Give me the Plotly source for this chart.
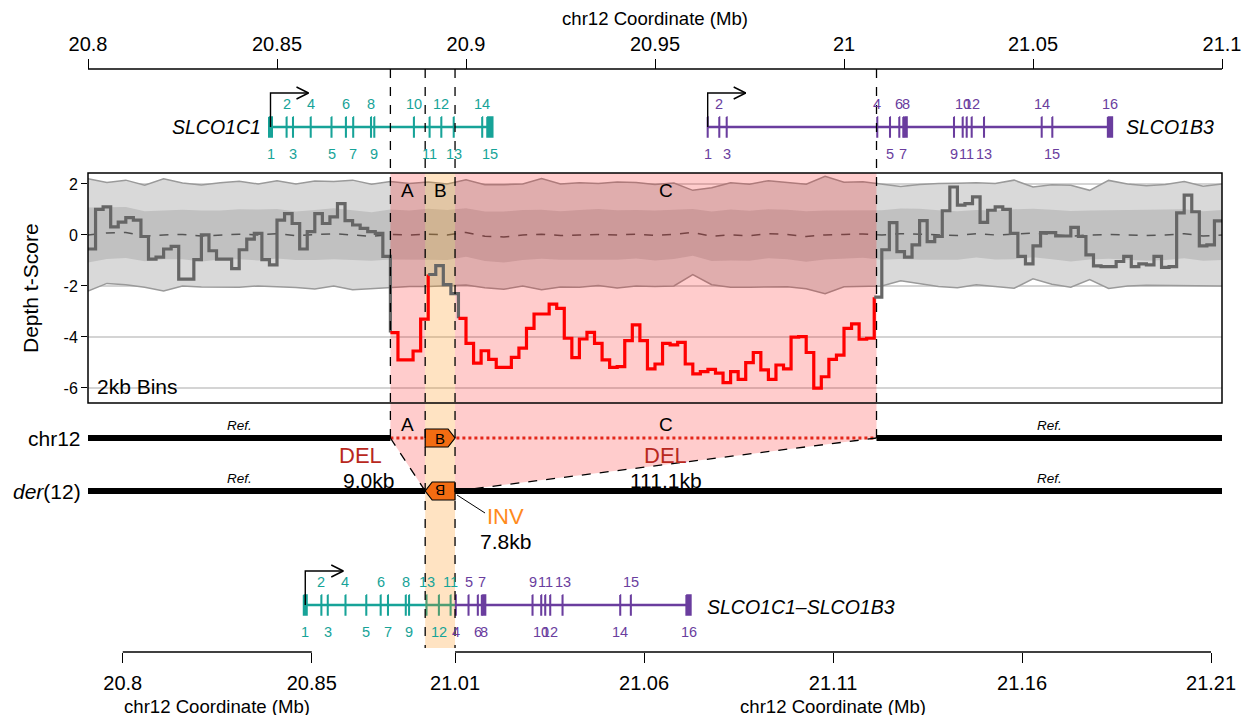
import plotly.graph_objects as go

# ---------------- data ----------------
bin_start_mb = 20.8
bin_size_mb = 0.002
depth_t = [
    -0.55, 1.0, 1.1, 0.32, 0.5, 0.68, 0.58, -0.06, -0.95, -0.87,
    -0.55, -0.45, -1.73, -1.73, -0.97, 0.0, -0.62, -0.95, -0.95, -1.32,
    -0.58, -0.16, 0.06, -0.97, -1.17, 0.58, 0.84, 0.45, -0.55, 0.13,
    0.84, 0.45, 0.71, 1.23, 0.56, 0.39, 0.26, 0.13, 0.06, -0.84,
    -3.83, -4.9, -4.9, -4.55, -3.3,
    -1.55, -1.2, -1.95, -2.3,
    -3.27, -4.25, -5.03, -4.54, -4.88, -5.19, -5.19, -4.8, -4.44, -3.66,
    -3.1, -3.1, -2.71, -2.88, -4.05, -4.81, -4.08, -3.82, -4.25, -4.9,
    -5.19, -5.16, -4.14, -3.53, -4.14, -5.25, -5.06, -4.25, -4.31, -4.21,
    -5.06, -5.45, -5.36, -5.27, -5.42, -5.79, -5.36, -5.66, -5.01, -4.61,
    -5.29, -5.66, -5.1, -5.25, -4.01, -3.99, -4.61, -6.01, -5.56, -4.88,
    -4.71, -3.66, -3.49, -4.09, -4.05,
    -2.44, -0.58, 0.48, -0.65, -0.87, -0.39, 0.56, -0.26, -0.06, 0.95,
    1.88, 1.17, 1.23, 1.49, 0.49, 0.97, 1.1, 1.0, 0.06, -0.84,
    -1.13, -0.43, 0.09, 0.09, -0.04, -0.04, 0.3, -0.06, -0.78, -1.21,
    -1.24, -1.24, -1.04, -0.84, -1.24, -1.13, -1.17, -0.84, -1.27, -1.24,
    0.87, 1.56, 0.91, -0.43, -0.39, 0.55,
]

band_start_mb = 20.8
band_step_mb = 0.005
band_mean = [
    0.0, 0.08, 0.1, -0.05, 0.0, 0.02, -0.04, 0.0, 0.03, 0.0,
    0.05, -0.03, 0.0, 0.05, 0.0, -0.06, 0.02, 0.0, 0.03, 0.0,
    0.1, -0.05, -0.08, 0.0, 0.03, -0.02, 0.0, 0.02, 0.0, 0.03,
    -0.02, 0.02, 0.1, -0.05, 0.0, -0.03, 0.05, 0.02, -0.06, 0.0,
    0.02, 0.04, 0.0, 0.05, 0.03, 0.0, -0.02, 0.05, 0.0, 0.03,
    0.08, 0.02, -0.05, 0.0, 0.02, 0.0, -0.02, 0.0, 0.05, -0.04, 0.0,
]
band_inner_hw = [
    1.08, 1.02, 1.0, 0.98, 0.95, 0.97, 1.0, 0.96, 0.98, 1.0,
    0.97, 0.95, 0.98, 1.0, 0.97, 0.95, 0.98, 0.96, 1.0, 0.98,
    0.95, 0.97, 1.0, 0.98, 0.96, 0.95, 0.98, 1.0, 0.97, 0.95,
    0.98, 0.96, 0.92, 0.97, 1.0, 0.98, 0.96, 0.97, 0.99, 0.96,
    0.95, 0.93, 0.97, 0.99, 1.0, 0.97, 0.95, 0.93, 0.96, 0.98,
    0.95, 0.97, 0.99, 0.96, 0.95, 0.97, 0.99, 0.98, 0.96, 0.97, 0.98,
]
band_outer_hw = [
    2.2, 1.98, 2.05, 2.0, 2.2, 2.02, 2.0, 2.05, 2.08, 2.0,
    2.08, 2.03, 2.12, 2.05, 2.15, 2.05, 2.08, 2.02, 2.05, 2.0,
    2.06, 2.02, 2.05, 2.0, 2.18, 2.02, 2.05, 2.0, 2.08, 2.03,
    2.0, 2.02, 1.65, 1.9, 2.05, 2.02, 2.08, 2.05, 2.05, 2.3,
    2.05, 2.05, 2.0, 1.85, 1.95, 2.02, 2.05, 2.0, 2.02, 2.12,
    1.8, 1.95, 2.0, 1.75, 2.12, 2.0, 1.95, 1.98, 2.05, 1.95, 2.0,
]

# breakpoints (Mb)
del_a_start = 20.8800
inv_b_start = 20.8892
inv_b_end = 20.8971
del_c_end = 21.0086
del_a_size = "9.0kb"
inv_b_size = "7.8kb"
del_c_size = "111.1kb"

top_ticks = [20.8, 20.85, 20.9, 20.95, 21.0, 21.05, 21.1]
bottom_left_ticks = [20.8, 20.85]
bottom_right_count = 5
tick_step = 0.05
y_ticks = [-6, -4, -2, 0, 2]

slco1c1_exons = [20.84828, 20.85254, 20.85423, 20.85892, 20.86442, 20.86823, 20.87016,
                 20.87487, 20.87574, 20.88622, 20.89037, 20.89347, 20.89675, 20.90429, 20.90632]
slco1c1_len_kb = [0.9, 0.12, 0.12, 0.12, 0.12, 0.12, 0.12, 0.12, 0.12, 0.12, 0.12, 0.12, 0.12, 0.12, 1.5]
slco1b3_exons = [20.96394, 20.96701, 20.96897, 21.00880, 21.01217, 21.01463, 21.01569, 21.01632,
                 21.02910, 21.03140, 21.03246, 21.03378, 21.03704, 21.05230, 21.05511, 21.07037]
slco1b3_len_kb = [0.12, 0.12, 0.12, 0.12, 0.12, 0.12, 0.12, 0.7, 0.12, 0.12, 0.12, 0.12, 0.12, 0.12, 0.12, 1.25]

# ---------------- layout geometry (page pixels) ----------------
W, H = 1254, 723
OFF = 8                      # page body margin
FW, FH = W - 2 * OFF, H - 2 * OFF
PX0, PX1 = 88, 1222
MB0, MB1 = 20.8, 21.1
PXMB = (PX1 - PX0) / (MB1 - MB0)


def px2mb(p):
    return MB0 + (p - PX0) / PXMB


def mbw(p):
    return p / PXMB


XR = [px2mb(OFF), px2mb(W - OFF)]
YR = [H - OFF, OFF]

Y_TOPAXIS, Y_GENE_TOP, PANEL_TOP, PANEL_BOT = 69, 127, 173, 403
Y_CHR, Y_DER, Y_GENE_BOT, Y_BAND_END, Y_BOTAXIS = 438, 491, 605, 648, 652
YR2 = [-6.59, 2.43]

TEAL = "#17a398"
PURPLE = "#6a3d9e"
RED_SHADE = "rgba(255,0,0,0.2)"
ORANGE_SHADE = "rgba(255,140,0,0.24)"
BOX_ORANGE = "#f36c12"
FONT = "Liberation Sans, Arial, Helvetica, sans-serif"


def der_pos(x):
    if x < del_a_start:
        return x + (inv_b_start - del_a_start)
    if inv_b_start <= x < inv_b_end:
        return inv_b_start + inv_b_end - x
    if x >= del_c_end:
        return x - (del_c_end - inv_b_end)
    return None


fig = go.Figure()


def poly(xs, ys, fill, ax="x", ay="y", lw=0, lc=None):
    fig.add_trace(go.Scatter(x=xs, y=ys, mode="lines", fill="toself", fillcolor=fill,
                             line=dict(width=lw, color=lc or fill), hoverinfo="skip",
                             showlegend=False, xaxis=ax, yaxis=ay))


def line(xs, ys, color, width, dash=None, ax="x", ay="y", shape="linear"):
    fig.add_trace(go.Scatter(x=xs, y=ys, mode="lines",
                             line=dict(color=color, width=width, dash=dash, shape=shape),
                             hoverinfo="skip", showlegend=False, xaxis=ax, yaxis=ay))


def rect(x0, x1, y0, y1):
    return [x0, x1, x1, x0, x0], [y0, y0, y1, y1, y0]


annotations = []


def text(x, y, s, size=19, color="black", xanchor="center", angle=0, italic=False):
    if italic:
        s = "<i>" + s + "</i>"
    annotations.append(dict(x=x, y=y, xref="x", yref="y", text=s, showarrow=False,
                            font=dict(size=size, color=color, family=FONT),
                            xanchor=xanchor, yanchor="middle", textangle=angle))


# ---- red shading outside panel ----
poly(*rect(del_a_start, inv_b_start, PANEL_BOT, Y_CHR), RED_SHADE)
poly(*rect(inv_b_end, del_c_end, PANEL_BOT, Y_CHR), RED_SHADE)
poly([del_a_start, inv_b_start, inv_b_start, del_a_start], [Y_CHR, Y_CHR, Y_DER, Y_CHR], RED_SHADE)
poly([inv_b_end, del_c_end, inv_b_end, inv_b_end], [Y_CHR, Y_CHR, Y_DER, Y_CHR], RED_SHADE)


# ---- gene models ----
def draw_transcripts(transcripts, row, backbones):
    for x0, x1, col in backbones:
        line([x0, x1], [row, row], col, 2.5)
    for tr in transcripts:
        bycol = {}
        for pos, ln, lab, col in tr:
            xs, ys = rect(pos - ln / 2, pos + ln / 2, row - 10, row + 10)
            bycol.setdefault(col, ([], []))
            bycol[col][0].extend(xs + [None])
            bycol[col][1].extend(ys + [None])
        for col, (xs, ys) in bycol.items():
            poly(xs, ys, col, lw=1.6, lc=col)
        for k, (pos, ln, lab, col) in enumerate(sorted(tr, key=lambda e: e[0])):
            yy = row + 27 if k % 2 == 0 else row - 23
            text(pos, yy, lab, size=14.5, color=col)


def tss_arrow(x, row):
    top = row - 34
    tip = x + mbw(38)
    line([x, x, tip], [row, top, top], "black", 1.4)
    line([tip - mbw(12), tip, tip - mbw(12)], [top - 6, top, top + 6], "black", 1.4)


c1 = [(p, l / 1000, str(i + 1), TEAL) for i, (p, l) in enumerate(zip(slco1c1_exons, slco1c1_len_kb))]
b3 = [(p, l / 1000, str(i + 1), PURPLE) for i, (p, l) in enumerate(zip(slco1b3_exons, slco1b3_len_kb))]

draw_transcripts([c1, b3], Y_GENE_TOP, [
    (c1[0][0] - c1[0][1] / 2, c1[-1][0] + c1[-1][1] / 2, TEAL),
    (b3[0][0] - b3[0][1] / 2, b3[-1][0] + b3[-1][1] / 2, PURPLE),
])
fused = []
for p, l, lab, col in c1 + b3:
    d = der_pos(p)
    if d is not None:
        fused.append((d, l, lab, col))
f_start = der_pos(c1[0][0]) - c1[0][1] / 2
f_end = der_pos(b3[-1][0]) + b3[-1][1] / 2
draw_transcripts([fused], Y_GENE_BOT, [(f_start, inv_b_end, TEAL), (inv_b_end, f_end, PURPLE)])

tss_arrow(c1[0][0], Y_GENE_TOP)
tss_arrow(b3[0][0], Y_GENE_TOP)
tss_arrow(der_pos(c1[0][0]), Y_GENE_BOT)

# orange inversion band below panel
poly(*rect(inv_b_start, inv_b_end, PANEL_BOT, Y_BAND_END), ORANGE_SHADE)

# ---- chromosomes ----
line([MB0, del_a_start], [Y_CHR, Y_CHR], "black", 6)
line([del_c_end, MB1], [Y_CHR, Y_CHR], "black", 6)
line([del_a_start, del_c_end], [Y_CHR, Y_CHR], "#e3281b", 3, dash="dot")
line([MB0, inv_b_start], [Y_DER, Y_DER], "black", 6)
line([inv_b_end, MB1], [Y_DER, Y_DER], "black", 6)

pt = mbw(7)
poly([inv_b_start, inv_b_end - pt, inv_b_end, inv_b_end - pt, inv_b_start, inv_b_start],
     [Y_CHR - 9, Y_CHR - 9, Y_CHR, Y_CHR + 9, Y_CHR + 9, Y_CHR - 9], BOX_ORANGE, lw=1.2, lc="black")
poly([inv_b_end, inv_b_start + pt, inv_b_start, inv_b_start + pt, inv_b_end, inv_b_end],
     [Y_DER - 9, Y_DER - 9, Y_DER, Y_DER + 9, Y_DER + 9, Y_DER - 9], BOX_ORANGE, lw=1.2, lc="black")

# ---- depth panel ----
bx = [band_start_mb + band_step_mb * j for j in range(len(band_mean))]
o_hi = [m + h for m, h in zip(band_mean, band_outer_hw)]
o_lo = [m - h for m, h in zip(band_mean, band_outer_hw)]
i_hi = [m + h for m, h in zip(band_mean, band_inner_hw)]
i_lo = [m - h for m, h in zip(band_mean, band_inner_hw)]
poly(bx + bx[::-1], o_hi + o_lo[::-1], "#d9d9d9", ax="x2", ay="y2")
poly(bx + bx[::-1], i_hi + i_lo[::-1], "#c1c1c1", ax="x2", ay="y2")
line(bx, o_hi, "#9a9a9a", 1.5, ax="x2", ay="y2")
line(bx, o_lo, "#9a9a9a", 1.5, ax="x2", ay="y2")
line(bx, band_mean, "#555555", 1.5, dash="dash", ax="x2", ay="y2")

poly(*rect(del_a_start, inv_b_start, YR2[0], YR2[1]), RED_SHADE, ax="x2", ay="y2")
poly(*rect(inv_b_end, del_c_end, YR2[0], YR2[1]), RED_SHADE, ax="x2", ay="y2")
poly(*rect(inv_b_start, inv_b_end, YR2[0], YR2[1]), ORANGE_SHADE, ax="x2", ay="y2")

n = len(depth_t)
edges = [bin_start_mb + bin_size_mb * i for i in range(n + 1)]


def is_del(i):
    c = bin_start_mb + bin_size_mb * (i + 0.5)
    return (del_a_start <= c < inv_b_start) or (inv_b_end <= c < del_c_end)


i = 0
while i < n:
    j = i
    while j + 1 < n and is_del(j + 1) == is_del(i):
        j += 1
    xs = edges[i:j + 2]
    ys = depth_t[i:j + 1] + [depth_t[j + 1] if j + 1 < n else depth_t[j]]
    line(xs, ys, "#ff0000" if is_del(i) else "#666666", 3.2, ax="x2", ay="y2", shape="hv")
    i = j + 1

# dummy traces so the overlay axes render
fig.add_trace(go.Scatter(x=[XR[0]], y=[OFF], xaxis="x3", yaxis="y", mode="markers",
                         marker=dict(opacity=0), hoverinfo="skip", showlegend=False))
fig.add_trace(go.Scatter(x=[XR[0]], y=[OFF], xaxis="x4", yaxis="y", mode="markers",
                         marker=dict(opacity=0), hoverinfo="skip", showlegend=False))

# ---- shapes ----
shapes = []


def sline(x0, y0, x1, y1, width=1.3, dash=None, color="black"):
    shapes.append(dict(type="line", x0=x0, y0=y0, x1=x1, y1=y1, xref="x", yref="y",
                       layer="above", line=dict(color=color, width=width, dash=dash)))


for xb, yb in [(del_a_start, Y_CHR), (del_c_end, Y_CHR), (inv_b_start, Y_BAND_END), (inv_b_end, Y_BAND_END)]:
    sline(xb, Y_TOPAXIS, xb, yb, dash="dash")
sline(del_a_start, Y_CHR, inv_b_start, Y_DER, dash="dash")
sline(del_c_end, Y_CHR, inv_b_end, Y_DER, dash="dash")
sline(inv_b_end + mbw(2), Y_DER + 4, inv_b_end + mbw(30), Y_DER + 22, width=1)
sline(MB0, Y_TOPAXIS, MB1, Y_TOPAXIS)
bl_pos = [der_pos(v) for v in bottom_left_ticks]
br_vals = [del_c_end + tick_step * k for k in range(bottom_right_count)]
br_pos = [der_pos(v) for v in br_vals]
sline(bl_pos[0], Y_BOTAXIS, bl_pos[-1], Y_BOTAXIS)
sline(br_pos[0], Y_BOTAXIS, br_pos[-1], Y_BOTAXIS)
shapes.append(dict(type="rect", xref="x2 domain", yref="y2 domain", x0=0, x1=1, y0=0, y1=1,
                   layer="above", line=dict(color="black", width=1.5)))

# ---- texts ----
text(px2mb(655), 18, "chr12 Coordinate (Mb)", size=18.6)
text((bl_pos[0] + bl_pos[-1]) / 2, 706, "chr12 Coordinate (Mb)", size=18.6)
text((br_pos[0] + br_pos[-1]) / 2, 706, "chr12 Coordinate (Mb)", size=18.6)
text(px2mb(30), (PANEL_TOP + PANEL_BOT) / 2, "Depth t-Score", size=21, angle=-90)
text(px2mb(95), 386, "2kb Bins", size=21, xanchor="left")

ca = (del_a_start + inv_b_start) / 2
cb = (inv_b_start + inv_b_end) / 2
cc = (inv_b_end + del_c_end) / 2
text(ca, 190, "A", size=19)
text(cb, 190, "B", size=19)
text(cc, 190, "C", size=19)
text(ca, 424, "A", size=19)
text(cc, 424, "C", size=19)
text(cb, Y_CHR, "B", size=15)
text(cb, Y_DER, "B", size=15, angle=180)

text(px2mb(83), Y_CHR, "chr12", size=21, xanchor="right")
text(px2mb(83), Y_DER, "<i>der</i>(12)", size=21, xanchor="right")
ref_l = (MB0 + del_a_start) / 2
ref_r = (del_c_end + MB1) / 2
for yy in (Y_CHR - 13, Y_DER - 13):
    text(ref_l, yy, "Ref.", size=13.5, italic=True)
    text(ref_r, yy, "Ref.", size=13.5, italic=True)

text(del_a_start - mbw(30), 455, "DEL", size=22, color="#b8281d")
text(del_a_start - mbw(22), 480, del_a_size, size=21)
text(cc, 455, "DEL", size=22, color="#b8281d")
text(cc, 480, del_c_size, size=21)
text(inv_b_end + mbw(50), 516, "INV", size=22, color="#ff8a1c")
text(inv_b_end + mbw(50), 541, inv_b_size, size=21)

text(c1[0][0] - mbw(8), Y_GENE_TOP, "SLCO1C1", size=19.5, xanchor="right", italic=True)
text(b3[-1][0] + mbw(14), Y_GENE_TOP, "SLCO1B3", size=19.5, xanchor="left", italic=True)
text(f_end + mbw(14), Y_GENE_BOT + 2, "SLCO1C1–SLCO1B3", size=19.5, xanchor="left", italic=True)

# ---- layout ----
fig.update_layout(
    width=FW, height=FH, autosize=False,
    margin=dict(l=0, r=0, t=0, b=0),
    paper_bgcolor="white", plot_bgcolor="rgba(0,0,0,0)",
    font=dict(family=FONT, color="black"),
    showlegend=False,
    xaxis=dict(domain=[0, 1], range=XR, visible=False),
    yaxis=dict(domain=[0, 1], range=YR, visible=False),
    xaxis2=dict(domain=[(PX0 - OFF) / FW, (PX1 - OFF) / FW], range=[MB0, MB1], visible=False, anchor="y2"),
    yaxis2=dict(domain=[1 - (PANEL_BOT - OFF) / FH, 1 - (PANEL_TOP - OFF) / FH], range=YR2, anchor="x2",
                tickvals=y_ticks, ticktext=[str(v) for v in y_ticks], ticks="outside",
                ticklen=6, tickwidth=1.3, tickcolor="black", showgrid=True,
                gridcolor="#d4d4d4", gridwidth=1.5, zeroline=False, showline=False,
                tickfont=dict(size=16, family=FONT, color="black")),
    xaxis3=dict(overlaying="x", anchor="free", position=1 - (Y_TOPAXIS - OFF) / FH, side="top",
                range=XR, tickvals=top_ticks, ticktext=[f"{v:g}" for v in top_ticks],
                ticks="outside", ticklen=10, tickwidth=1.3, tickcolor="black",
                showline=False, showgrid=False, zeroline=False, ticklabelstandoff=0,
                tickfont=dict(size=20, family=FONT, color="black")),
    xaxis4=dict(overlaying="x", anchor="free", position=1 - (Y_BOTAXIS - OFF) / FH, side="bottom",
                range=XR, tickvals=bl_pos + br_pos,
                ticktext=[f"{v:g}" for v in bottom_left_ticks] + [f"{v:.2f}" for v in br_vals],
                ticks="outside", ticklen=10, tickwidth=1.3, tickcolor="black",
                showline=False, showgrid=False, zeroline=False, ticklabelstandoff=3,
                tickfont=dict(size=20, family=FONT, color="black")),
    shapes=shapes,
    annotations=annotations,
)

fig.write_html("out.html")
